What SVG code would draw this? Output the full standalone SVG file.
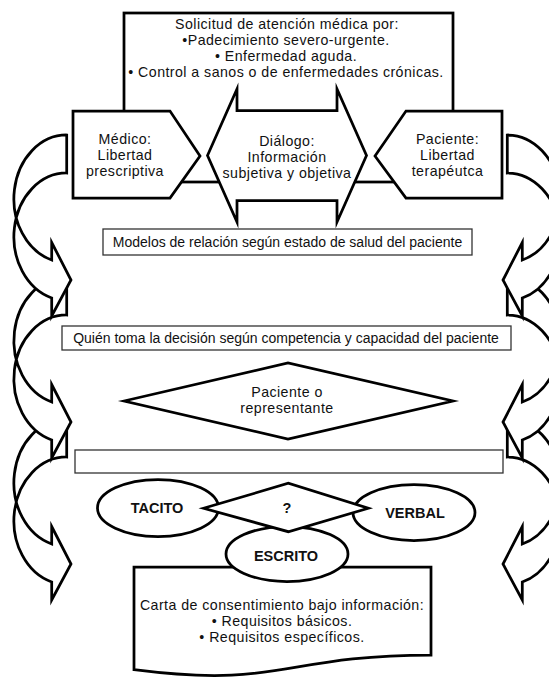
<svg xmlns="http://www.w3.org/2000/svg" width="549" height="678" viewBox="0 0 549 678">
<style>
.s{fill:#fff;stroke:#000;stroke-width:2.75;stroke-linejoin:miter;stroke-miterlimit:10}
.b{fill:#fff;stroke:#333;stroke-width:1.3}
text{font-family:"Liberation Sans",Arial,sans-serif;fill:#111;text-anchor:middle}
.t{font-size:14.2px;letter-spacing:0.45px}
.m{font-size:14px}
.k{font-size:14.5px;font-weight:bold}
</style>
<defs>
<path id="ca" fill="#fff" stroke="#000" stroke-width="2.75" stroke-linejoin="miter" stroke-miterlimit="10" d="M66.7,135 A52.7,63.8 0 0 0 51.7,260 L51.7,242.5 L71,280 L51.7,316 L51.7,298 A52.7,63.8 0 0 1 66.7,173 Z"/>
</defs>
<rect width="549" height="678" fill="#fff"/>
<g id="connectors">
<use href="#ca" transform="translate(0,284)"/>
<use href="#ca" transform="translate(0,142)"/>
<use href="#ca"/>
<g transform="translate(574,0) scale(-1,1)">
<use href="#ca" transform="translate(0,284)"/>
<use href="#ca" transform="translate(0,142)"/>
<use href="#ca"/>
</g>
</g>
<g id="solicitud">
<rect class="s" x="124" y="13" width="329" height="169"/>
<text class="t"><tspan x="287" y="28.75">Solicitud de atención médica por:</tspan><tspan x="286" y="44.75">•Padecimiento severo-urgente.</tspan><tspan x="286" y="60.75">• Enfermedad aguda.</tspan><tspan x="286" y="76.75">• Control a sanos o de enfermedades crónicas.</tspan></text>
</g>
<g id="medico">
<polygon class="s" points="73,111 170,111 200,156 170,198 73,198"/>
<text class="t"><tspan x="125" y="144">Médico:</tspan><tspan x="125" y="160">Libertad</tspan><tspan x="125" y="176">prescriptiva</tspan></text>
</g>
<g id="paciente">
<polygon class="s" points="375,156 406,111 502,111 502,198 406,198"/>
<text class="t"><tspan x="447.5" y="144">Paciente:</tspan><tspan x="447.5" y="160">Libertad</tspan><tspan x="447.5" y="176">terapéutca</tspan></text>
</g>
<g id="dialogo">
<polygon class="s" points="207.5,155.5 237,89 237,110.5 337,110.5 337,89 366.5,155.5 337,222 337,200.5 237,200.5 237,222"/>
<text class="t"><tspan x="287" y="146">Diálogo:</tspan><tspan x="287" y="162">Información</tspan><tspan x="287" y="178">subjetiva y objetiva</tspan></text>
</g>
<g id="modelos">
<rect class="b" x="103" y="229" width="369" height="26"/>
<text class="m" x="287.5" y="246.5">Modelos de relación según estado de salud del paciente</text>
</g>
<g id="quien">
<rect class="b" x="62" y="326" width="449" height="24"/>
<text class="m" x="286" y="342.5">Quién toma la decisión según competencia y capacidad del paciente</text>
</g>
<g id="decision">
<polygon class="s" points="124,401 288,363 453,401 288,439"/>
<text class="t"><tspan x="287" y="396.5">Paciente o</tspan><tspan x="287" y="412.5">representante</tspan></text>
</g>
<g id="vacio">
<rect class="b" x="75" y="450" width="428" height="23"/>
</g>
<g id="carta">
<path class="s" d="M134,567 L431,567 L431,655 C282.5,655 282.5,688.8 134,669.7 Z"/>
<text class="t"><tspan x="282" y="610">Carta de consentimiento bajo información:</tspan><tspan x="282" y="626">• Requisitos básicos.</tspan><tspan x="282" y="642">• Requisitos específicos.</tspan></text>
</g>
<g id="tacito">
<ellipse class="s" cx="158" cy="508" rx="60.5" ry="28.5"/>
<text class="k" x="157" y="513">TACITO</text>
</g>
<g id="verbal">
<ellipse class="s" cx="414" cy="512.5" rx="61" ry="28"/>
<text class="k" x="415" y="518">VERBAL</text>
</g>
<g id="escrito">
<ellipse class="s" cx="287" cy="554" rx="61" ry="27.5"/>
<text class="k" x="286" y="561">ESCRITO</text>
</g>
<g id="tipo">
<polygon class="s" points="203.5,508.3 288.3,483.3 368.3,508.3 288.3,531.7"/>
<text class="k" x="287" y="513">?</text>
</g>
</svg>
